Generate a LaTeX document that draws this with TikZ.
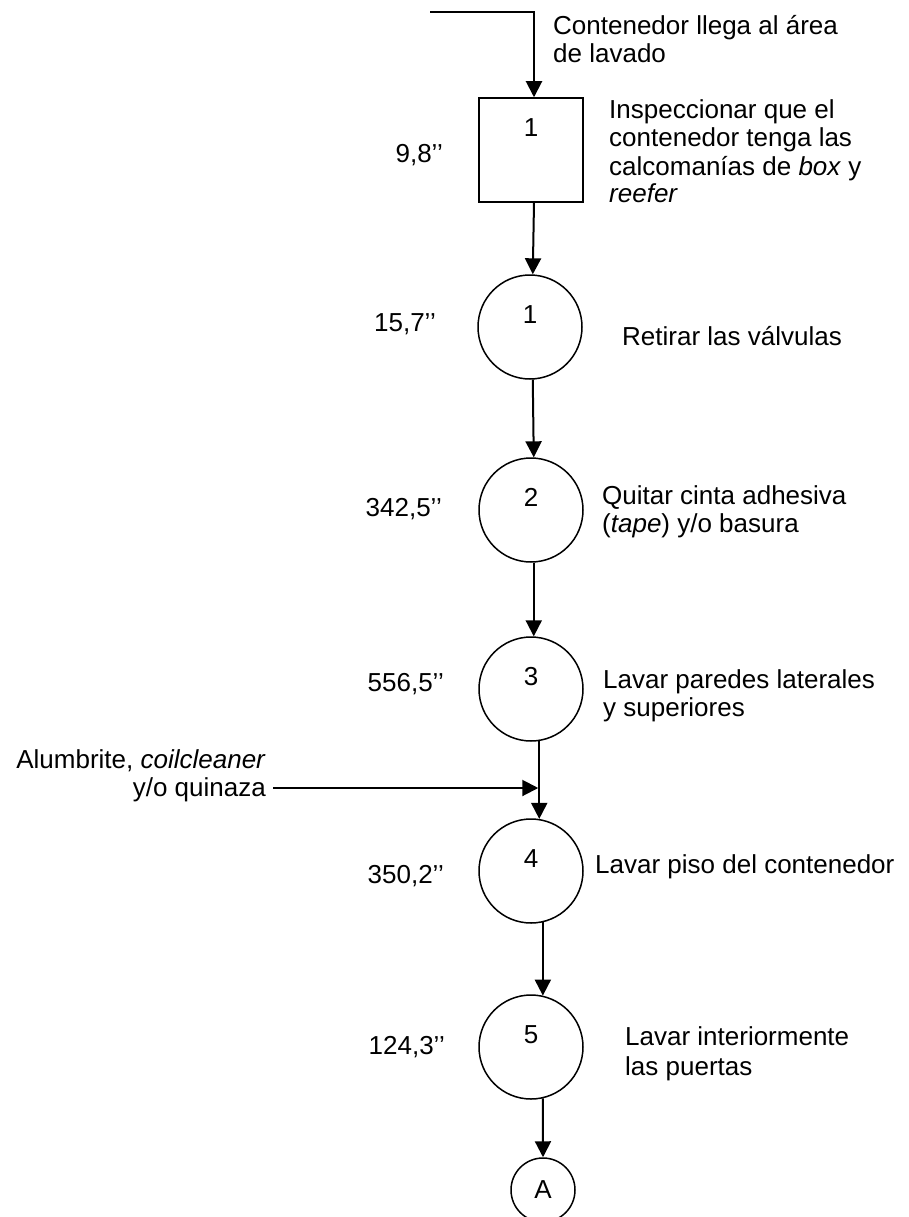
\documentclass[tikz,border=0pt]{standalone}
\usepackage{fontspec}
\setmainfont{Liberation Sans}
\usetikzlibrary{arrows.meta}
\begin{document}
\begin{tikzpicture}[x=1pt,y=-1pt,
  every node/.style={font=\fontsize{26}{28}\selectfont, inner sep=0pt},
  opbox/.style={draw, line width=1.5pt, minimum size=104pt, text height=19pt, text depth=46pt},
  opcircle/.style={draw, circle, line width=1.5pt, minimum size=104pt, text height=19pt, text depth=26pt},
  connector/.style={draw, circle, line width=1.5pt, minimum size=64pt},
  flow/.style={line width=2pt, -{Triangle[width=16pt,length=16pt]}},
  % multi-line notes are placed by the baseline of their last line
  note/.style={anchor=base west, align=left},
  time/.style={anchor=base east},
]
\useasboundingbox (0,0) rectangle (908,1217);

% inspection and operations
\node[opbox] (op1) at (531,150) {1};
\node[opcircle] (c1) at (530,327) {1};
\node[opcircle] (c2) at (531,510) {2};
\node[opcircle] (c3) at (531,689) {3};
\node[opcircle] (c4) at (531,871) {4};
\node[opcircle] (c5) at (531,1047) {5};
\node[connector] (A) at (543,1190) {A};

% descriptions
\node[note] (t0) at (553,63) {Contenedor llega al área\\de lavado};
\node[note] (t1) at (609,203) {Inspeccionar que el\\contenedor tenga las\\calcomanías de \textit{box} y\\\textit{reefer}};
\node[note] (t2) at (622,345.5) {Retirar las válvulas};
\node[note] (t3) at (602,532) {Quitar cinta adhesiva\\(\textit{tape}) y/o basura};
\node[note] (t4) at (603,716) {Lavar paredes laterales\\y superiores};
\node[note] (t5) at (595,873) {Lavar piso del contenedor};
\node[note, font=\fontsize{26}{30}\selectfont] (t6) at (625,1075) {Lavar interiormente\\las puertas};

% times
\node[time] (d1) at (443,163) {9,8’{}’};
\node[time] (d2) at (436,331.5) {15,7’{}’};
\node[time] (d3) at (442,516.5) {342,5’{}’};
\node[time] (d4) at (444,691.5) {556,5’{}’};
\node[time] (d5) at (444,883.5) {350,2’{}’};
\node[time] (d6) at (445,1054.5) {124,3’{}’};

% material input
\node[anchor=base east, align=right] (m1) at (266,796) {Alumbrite, \textit{coilcleaner}\\y/o quinaza};

% flow
\coordinate (entry) at (430,12);
\coordinate (inp) at (273,788);
\coordinate (join) at (c3.-81 |- inp);
\draw[flow] (entry) -| ([xshift=3pt]op1.north);
\draw[flow] ([xshift=3pt]op1.south) -- (c1.87);
\draw[flow] (c1.-87) -- (c2.87);
\draw[flow] (c2.-87) -- (c3.87);
\draw[flow] (c3.-81) -- (c4.81);
\draw[flow] (c4.-77) -- (c5.77);
\draw[flow] (c5.-77) -- (A.north);
\draw[flow] (inp) -- ([xshift=-1pt]join);
\end{tikzpicture}
\end{document}
